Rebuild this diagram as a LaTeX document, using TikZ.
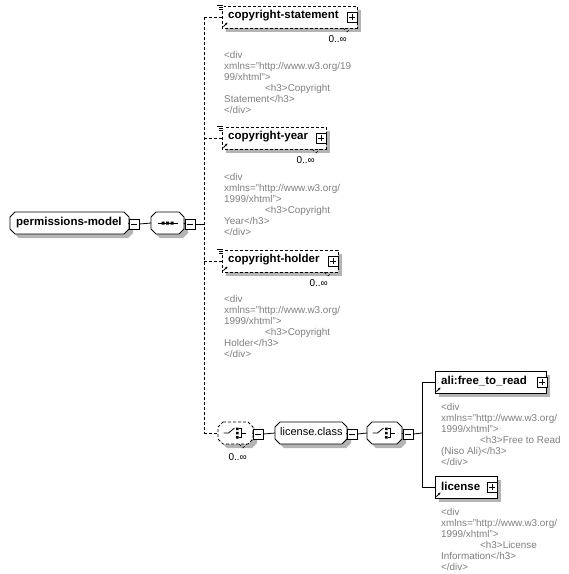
\documentclass[tikz,border=0pt]{standalone}
\usepackage{fontspec}
\setmainfont{Liberation Sans}
\usetikzlibrary{arrows.meta}
\definecolor{anno}{RGB}{128,128,128}
\definecolor{shad}{RGB}{180,180,180}
\tikzset{
  lw/.style={line width=0.8pt},
  dsh/.style={dash pattern=on 3pt off 2pt},
  box/.style={inner sep=0pt,outer sep=0pt,minimum height=22pt},
  lbl/.style={anchor=west,inner sep=0pt,font=\fontsize{11.5}{13}\selectfont\bfseries},
  lblr/.style={anchor=west,inner sep=0pt,font=\fontsize{11}{13}\selectfont},
  occ/.style={anchor=east,inner sep=0pt,font=\fontsize{10}{12}\selectfont},
  anno/.style={anchor=north west,inner sep=0pt,align=left,text=anno,font=\fontsize{9.9}{11}\selectfont},
  pm/.style={draw,fill=white,lw,minimum size=10pt,inner sep=0pt},
  minus/.style={pm,path picture={\draw[line width=0.8pt] ([xshift=2pt]path picture bounding box.west)--([xshift=-2pt]path picture bounding box.east);}},
  plus/.style={pm,path picture={\draw[line width=0.8pt] ([xshift=2pt]path picture bounding box.west)--([xshift=-2pt]path picture bounding box.east) ([yshift=-2pt]path picture bounding box.north)--([yshift=2pt]path picture bounding box.south);}},
  ico/.style={line width=0.7pt},
  refarrow/.style={line width=0.8pt,-{Stealth[length=2.5pt,width=2.5pt]}}
}
% octagon outline around a named node, offset by (#2,#3)
\newcommand{\octpath}[3]{([shift={(5+#2,#3)}]#1.north west) -- ([shift={(-5+#2,#3)}]#1.north east) -- ([shift={(#2,5+#3)}]#1.north east) -- ([shift={(#2,-5+#3)}]#1.south east) -- ([shift={(-5+#2,#3)}]#1.south east) -- ([shift={(5+#2,#3)}]#1.south west) -- ([shift={(#2,-5+#3)}]#1.south west) -- ([shift={(#2,5+#3)}]#1.north west) -- cycle}
\newcommand{\octa}[2]{%
  \fill[shad] \octpath{#1}{4}{4};
  \draw[lw,fill=white,#2] \octpath{#1}{0}{0};}
\newcommand{\rect}[2]{%
  \fill[shad] ([shift={(4,4)}]#1.north west) rectangle ([shift={(4,4)}]#1.south east);
  \draw[lw,fill=white,#2] (#1.north west) rectangle (#1.south east);}
\newcommand{\docicon}[1]{%
  \begin{scope}[shift={(#1.north west)}]
    \fill[white] (-5,-2) rectangle (2,4);
    \draw[ico] (-5,-1)--(1,-1) (-3,1)--(1,1) (-3,3)--(1,3);
  \end{scope}}
\newcommand{\refarr}[1]{%
  \begin{scope}[shift={(#1.south west)}]
    \draw[refarrow] (1.5,-1.5)--(5.5,-5.5);
  \end{scope}}
\newcommand{\multi}[1]{%
  \begin{scope}[shift={(#1.south east)}]
    \draw[dsh,line width=0.6pt] (-14,0)--(-10,4)--(-6,0);
  \end{scope}}
\newcommand{\choiceicon}[1]{%
  \begin{scope}[shift={(#1.center)}]
    \draw[lw] (-12,0)--(-7,0)--(-1,-5);
    \fill (0.5,-5.5) rectangle (3,-3) (0.5,-1.25) rectangle (3,1.25) (0.5,3) rectangle (3,5.5);
    \draw[lw] (3,-4.25)--(5.5,-4.25)--(5.5,4.25)--(3,4.25) (5.5,0)--(10,0);
  \end{scope}}
\begin{document}
\begin{tikzpicture}[x=1pt,y=-1pt]
\useasboundingbox (0,0) rectangle (569,574);
\fill[white] (0,0) rectangle (569,574);

% root
\node[box,minimum width=119pt,anchor=west] (pm) at (10,223) {};
\octa{pm}{}
\node[lbl] (pmt) at (16,223) {permissions-model};
\node[minus] (pmm) at (134,224) {};
% sequence
\node[box,minimum width=33pt,anchor=west] (seq) at (151,223) {};
\octa{seq}{}
\node[minus] (seqm) at (190,224) {};
\begin{scope}[shift={(seq.center)}]
  \draw[lw] (-10,0)--(10,0);
  \fill (-6,-1.5) rectangle (-3,1.5) (-1.5,-1.5) rectangle (1.5,1.5) (3,-1.5) rectangle (6,1.5);
\end{scope}
\draw[lw] (pm.east) -- (pmm.west);
\draw[lw] (pmm.east) -- (seq.west);
\draw[lw] (seq.east) -- (seqm.west);

% bus
\coordinate (b0) at (204,224);
\coordinate (b1) at (204,17);
\coordinate (b2) at (204,138);
\coordinate (b3) at (204,261);
\coordinate (b4) at (204,433);
\draw[lw] (seqm.east) -- (b0);
\draw[lw,dsh] (b1) -- (b4);

% copyright-statement
\node[box,minimum width=135pt,anchor=west] (cs) at (222,17) {};
\rect{cs}{dsh}
\node[lbl] (cst) at (228,16) {copyright-statement};
\node[plus] (csp) at (352,17) {};
\docicon{cs}\refarr{cs}\multi{cs}
\node[occ] (cso) at (347,39) {0..∞};
\node[anno] (csa) at (224,51) {<div\\xmlns="http://www.w3.org/19\\99/xhtml">\\\hspace*{41pt}<h3>Copyright\\Statement</h3>\\</div>};
\draw[lw,dsh] (b1) -- (cs.west);

% copyright-year
\node[box,minimum width=104pt,anchor=west] (cy) at (222,138) {};
\rect{cy}{dsh}
\node[lbl] (cyt) at (228,137) {copyright-year};
\node[plus] (cyp) at (321,138) {};
\docicon{cy}\refarr{cy}\multi{cy}
\node[occ] (cyo) at (315,160) {0..∞};
\node[anno] (cya) at (224,173) {<div\\xmlns="http://www.w3.org/\\1999/xhtml">\\\hspace*{41pt}<h3>Copyright\\Year</h3>\\</div>};
\draw[lw,dsh] (b2) -- (cy.west);

% copyright-holder
\node[box,minimum width=116pt,anchor=west] (ch) at (222,261) {};
\rect{ch}{dsh}
\node[lbl] (cht) at (228,260) {copyright-holder};
\node[plus] (chp) at (333,261) {};
\docicon{ch}\refarr{ch}\multi{ch}
\node[occ] (cho) at (328,283) {0..∞};
\node[anno] (cha) at (224,295) {<div\\xmlns="http://www.w3.org/\\1999/xhtml">\\\hspace*{41pt}<h3>Copyright\\Holder</h3>\\</div>};
\draw[lw,dsh] (b3) -- (ch.west);

% choice (optional)
\node[box,minimum width=35pt,anchor=west] (ch1) at (218,433) {};
\octa{ch1}{dsh}
\node[minus] (ch1m) at (258,434) {};
\choiceicon{ch1}
\multi{ch1}
\node[occ] (ch1o) at (247,457) {0..∞};
\draw[lw,dsh] (b4) -- (ch1.west);
\draw[lw] (ch1.east) -- (ch1m.west);

% license.class
\node[box,minimum width=72pt,anchor=west] (lc) at (275,433) {};
\octa{lc}{}
\node[lblr] (lct) at (280,432) {license.class};
\node[minus] (lcm) at (352,434) {};
\draw[lw] (ch1m.east) -- (lc.west);
\draw[lw] (lc.east) -- (lcm.west);

% choice 2
\node[box,minimum width=35pt,anchor=west] (ch2) at (367,433) {};
\octa{ch2}{}
\node[minus] (ch2m) at (408,434) {};
\choiceicon{ch2}
\draw[lw] (lcm.east) -- (ch2.west);
\draw[lw] (ch2.east) -- (ch2m.west);

% right bus
\coordinate (r0) at (422,433);
\coordinate (r1) at (422,382);
\coordinate (r2) at (422,487);
\draw[lw] (ch2m.east) -- (r0);
\draw[lw] (r1) -- (r2);

% ali:free_to_read
\node[box,minimum width=111pt,anchor=west] (ali) at (435,382) {};
\rect{ali}{}
\node[lbl] (alit) at (441,381) {ali:free\_to\_read};
\node[plus] (alip) at (542,382) {};
\refarr{ali}
\node[anno] (alia) at (441,403) {<div\\xmlns="http://www.w3.org/\\1999/xhtml">\\\hspace*{39pt}<h3>Free to Read\\(Niso Ali)</h3>\\</div>};
\draw[lw] (r1) -- (ali.west);

% license
\node[box,minimum width=62pt,anchor=west] (lic) at (435,487) {};
\rect{lic}{}
\node[lbl] (lict) at (441,486) {license};
\node[plus] (licp) at (492,487) {};
\refarr{lic}
\node[anno] (lica) at (441,508) {<div\\xmlns="http://www.w3.org/\\1999/xhtml">\\\hspace*{39pt}<h3>License\\Information</h3>\\</div>};
\draw[lw] (r2) -- (lic.west);
\end{tikzpicture}
\end{document}
